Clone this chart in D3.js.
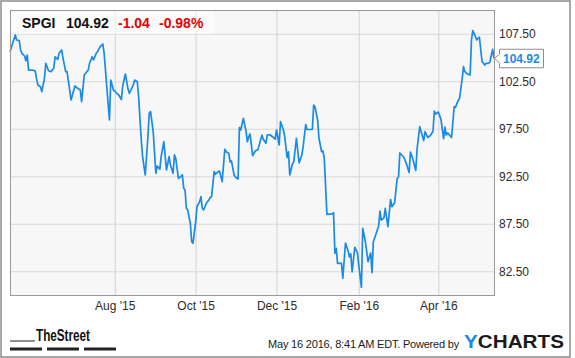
<!DOCTYPE html>
<html>
<head>
<meta charset="utf-8">
<script src="https://cdn.jsdelivr.net/npm/d3@7"></script>
<style>
  body { margin: 0; background: #fff; }
  svg { display: block; font-family: "Liberation Sans", Arial, sans-serif; }
</style>
</head>
<body>
<div id="chart"></div>
<script>
var ticker = "SPGI",
    lastPrice = "104.92",
    change = "-1.04",
    changePct = "-0.98%",
    stamp = "May 16 2016, 8:41 AM EDT. Powered by";

var dates = [
  "2015-05-14","2015-05-18","2015-05-19","2015-05-21","2015-05-22","2015-05-23","2015-05-25","2015-05-26","2015-05-27","2015-05-28",
  "2015-05-31","2015-06-02","2015-06-03","2015-06-04","2015-06-06","2015-06-07","2015-06-09","2015-06-10","2015-06-12","2015-06-14",
  "2015-06-16","2015-06-17","2015-06-19","2015-06-20","2015-06-22","2015-06-23","2015-06-25","2015-06-26","2015-06-28","2015-06-29",
  "2015-07-02","2015-07-04","2015-07-06","2015-07-07","2015-07-09","2015-07-12","2015-07-13","2015-07-15","2015-07-16","2015-07-18",
  "2015-07-19","2015-07-21","2015-07-23","2015-07-24","2015-07-26","2015-07-28","2015-07-29","2015-07-31","2015-08-01","2015-08-03",
  "2015-08-04","2015-08-06","2015-08-07","2015-08-09","2015-08-11","2015-08-12","2015-08-15","2015-08-16","2015-08-18","2015-08-19",
  "2015-08-21","2015-08-22","2015-08-24","2015-08-26","2015-08-27","2015-08-28","2015-08-30","2015-09-01","2015-09-02","2015-09-04",
  "2015-09-05","2015-09-07","2015-09-09","2015-09-11","2015-09-12","2015-09-14","2015-09-15","2015-09-16","2015-09-18","2015-09-19",
  "2015-09-21","2015-09-22","2015-09-23","2015-09-24","2015-09-25","2015-09-27","2015-09-28","2015-09-29","2015-10-01","2015-10-02",
  "2015-10-04","2015-10-05","2015-10-06","2015-10-07","2015-10-09","2015-10-11","2015-10-12","2015-10-13","2015-10-15","2015-10-16",
  "2015-10-18","2015-10-19","2015-10-21","2015-10-23","2015-10-24","2015-10-26","2015-10-27","2015-10-28","2015-10-30","2015-10-31",
  "2015-11-02","2015-11-03","2015-11-04","2015-11-06","2015-11-08","2015-11-09","2015-11-10","2015-11-11","2015-11-13","2015-11-15",
  "2015-11-17","2015-11-20","2015-11-21","2015-11-23","2015-11-24","2015-11-26","2015-11-28","2015-11-30","2015-12-01","2015-12-03",
  "2015-12-04","2015-12-06","2015-12-07","2015-12-09","2015-12-10","2015-12-11","2015-12-13","2015-12-14","2015-12-16","2015-12-18",
  "2015-12-20","2015-12-21","2015-12-23","2015-12-24","2015-12-28","2015-12-29","2015-12-30","2016-01-01","2016-01-02","2016-01-04",
  "2016-01-05","2016-01-06","2016-01-08","2016-01-12","2016-01-13","2016-01-14","2016-01-15","2016-01-16","2016-01-19","2016-01-20",
  "2016-01-22","2016-01-24","2016-01-25","2016-01-26","2016-01-27","2016-01-29","2016-01-31","2016-02-01","2016-02-03","2016-02-04",
  "2016-02-06","2016-02-08","2016-02-10","2016-02-11","2016-02-12","2016-02-14","2016-02-16","2016-02-17","2016-02-18","2016-02-20",
  "2016-02-21","2016-02-23","2016-02-25","2016-02-26","2016-02-28","2016-03-01","2016-03-02","2016-03-03","2016-03-06","2016-03-08",
  "2016-03-10","2016-03-11","2016-03-13","2016-03-15","2016-03-16","2016-03-18","2016-03-19","2016-03-21","2016-03-22","2016-03-24",
  "2016-03-26","2016-03-28","2016-03-29","2016-03-30","2016-04-01","2016-04-03","2016-04-05","2016-04-06","2016-04-07","2016-04-08",
  "2016-04-11","2016-04-13","2016-04-14","2016-04-15","2016-04-17","2016-04-19","2016-04-20","2016-04-21","2016-04-23","2016-04-25",
  "2016-04-26","2016-04-27","2016-04-29","2016-04-30","2016-05-01","2016-05-02","2016-05-04","2016-05-05","2016-05-06","2016-05-07",
  "2016-05-09","2016-05-10","2016-05-11","2016-05-12","2016-05-13"
];

var closes = [
  105.61,107.37,106.84,106.77,105.79,105.44,105.16,104.66,105.26,103.68,
  103.68,103.58,102.81,102.11,101.93,101.40,102.81,104.39,103.61,103.51,
  103.86,105.08,104.81,105.44,105.79,104.92,103.51,103.51,101.58,100.53,
  102.00,101.76,101.58,100.35,103.16,103.68,104.39,105.08,104.74,105.44,
  105.61,106.14,106.42,105.44,101.93,98.42,102.63,101.58,101.47,101.16,
  101.05,100.58,102.00,103.26,101.68,101.23,102.11,102.63,102.45,100.87,
  96.32,94.56,92.63,96.66,99.13,99.30,97.19,92.81,93.58,93.23,
  94.56,96.14,93.16,94.56,93.68,92.81,94.74,94.39,92.28,92.39,
  92.63,91.23,91.05,89.13,88.95,87.55,85.61,85.44,87.68,89.30,
  89.82,90.35,89.13,88.95,89.65,90.00,90.28,90.35,92.98,92.71,
  92.98,93.05,91.93,95.34,95.08,94.92,94.00,94.11,92.63,92.42,
  92.21,97.63,97.37,98.60,97.26,96.14,96.63,96.95,94.68,95.16,
  95.32,96.84,96.39,95.97,96.84,96.87,96.66,96.42,97.37,95.79,
  98.24,97.47,96.84,94.47,95.08,92.63,93.79,94.03,96.50,93.90,
  94.68,95.53,97.95,97.42,97.42,100.00,99.79,98.42,96.50,95.08,
  95.16,94.39,88.49,88.53,88.66,84.39,84.92,83.33,83.33,81.76,
  85.47,84.63,84.00,84.32,82.42,85.02,84.47,83.16,80.79,87.02,
  85.63,83.51,84.42,82.35,85.58,86.42,87.26,88.84,87.89,88.11,
  89.11,87.19,90.05,89.30,89.68,92.28,92.42,94.95,94.50,93.79,
  92.89,95.05,94.21,93.11,95.37,97.72,97.21,96.26,97.19,96.58,
  96.79,97.23,99.37,99.05,99.26,98.49,96.47,97.68,96.84,97.07,
  96.58,99.84,99.76,100.16,100.71,102.74,104.03,103.51,103.26,103.16,
  106.84,107.82,107.19,106.84,107.02,107.13,104.56,104.39,104.21,104.39,
  104.39,104.56,105.26,105.86,104.92
];

var yTicks = [82.5, 87.5, 92.5, 97.5, 102.5, 107.5];
var monthTicks = ["2015-08-01", "2015-10-01", "2015-12-01", "2016-02-01", "2016-04-01"];
var monthLabels = ["Aug '15", "Oct '15", "Dec '15", "Feb '16", "Apr '16"];

var W = 575, H = 358,
    plot = {left: 10, top: 10, right: 494, bottom: 295};

var parse = d3.timeParse("%Y-%m-%d");
var data = dates.map(function(d, i) { return {date: parse(d), close: closes[i]}; });

var svg = d3.select("#chart").append("svg")
    .attr("width", W)
    .attr("height", H);

// outer frame
svg.append("rect")
    .attr("x", 1).attr("y", 1)
    .attr("width", 569).attr("height", 356)
    .attr("fill", "#fff")
    .attr("stroke", "#8c8c8c")
    .attr("stroke-width", 1.5);

svg.append("rect")
    .attr("x", plot.left).attr("y", plot.top)
    .attr("width", plot.right - plot.left).attr("height", plot.bottom - plot.top)
    .attr("fill", "#f7f7f7");

var x = d3.scaleTime()
    .domain([parse("2015-05-14"), parse("2016-05-13")])
    .range([plot.left, plot.right]);

var y = d3.scaleLinear()
    .domain([80, 110])
    .range([plot.bottom, plot.top]);

var xAxis = svg.append("g")
    .attr("transform", "translate(0," + plot.bottom + ")")
    .call(d3.axisBottom(x)
      .tickValues(monthTicks.map(parse))
      .tickFormat(function(d, i) { return monthLabels[i]; })
      .tickSize(-(plot.bottom - plot.top))
      .tickPadding(6));

var yAxis = svg.append("g")
    .attr("transform", "translate(" + plot.right + ",0)")
    .call(d3.axisRight(y)
      .tickValues(yTicks)
      .tickFormat(d3.format(".2f"))
      .tickSize(-(plot.right - plot.left))
      .tickPadding(5));

[xAxis, yAxis].forEach(function(a) {
  a.select(".domain").remove();
  a.selectAll(".tick line").attr("stroke", "#d8d8d8").attr("stroke-width", 1.2);
  a.selectAll(".tick text")
    .attr("fill", "#2b2b2b")
    .style("font-size", "12px")
    .style("font-family", "'Liberation Sans', Arial, sans-serif");
});

var line = d3.line()
    .x(function(d) { return x(d.date); })
    .y(function(d) { return y(d.close); });

svg.append("path")
    .datum(data)
    .attr("fill", "none")
    .attr("stroke", "#1a8ae8")
    .attr("stroke-width", 1.7)
    .attr("stroke-linejoin", "round")
    .attr("d", line);

svg.append("rect")
    .attr("x", plot.left + 0.5).attr("y", plot.top + 0.5)
    .attr("width", plot.right - plot.left).attr("height", plot.bottom - plot.top)
    .attr("fill", "none")
    .attr("stroke", "#999")
    .attr("stroke-width", 1);

// header box
svg.append("rect")
    .attr("x", plot.left + 1).attr("y", plot.top + 1)
    .attr("width", 203).attr("height", 23)
    .attr("fill", "#fff")
    .attr("fill-opacity", 0.55);

var head = svg.append("text")
    .attr("y", 28)
    .style("font-size", "14px")
    .style("font-weight", "bold");
head.append("tspan").attr("x", 22).attr("fill", "#111").text(ticker);
head.append("tspan").attr("x", 66).attr("fill", "#111").text(lastPrice);
head.append("tspan").attr("x", 118).attr("fill", "#e60000").text(change);
head.append("tspan").attr("x", 159).attr("fill", "#e60000").text(changePct);

// last price tag
var last = data[data.length - 1],
    ly = y(last.close);
svg.append("path")
    .attr("d", "M" + (plot.right + 5.5) + "," + (ly - 9) +
               "H543.5V" + (ly + 9.5) +
               "H" + (plot.right + 5.5) + "V" + (ly + 5) +
               "L" + (plot.right + 0.5) + "," + ly +
               "L" + (plot.right + 5.5) + "," + (ly - 4) + "Z")
    .attr("fill", "#fff")
    .attr("stroke", "#8c8c8c")
    .attr("stroke-width", 1);
svg.append("text")
    .attr("x", plot.right + 9)
    .attr("y", ly)
    .attr("dy", "0.36em")
    .attr("fill", "#1a8ae8")
    .style("font-size", "12px")
    .style("font-weight", "bold")
    .text(d3.format(".2f")(last.close));

// footer
var logo = svg.append("g");
logo.append("line")
    .attr("x1", 10).attr("x2", 35)
    .attr("y1", 341).attr("y2", 341)
    .attr("stroke", "#222").attr("stroke-width", 1);
logo.append("text")
    .attr("x", 36).attr("y", 341)
    .attr("textLength", 54)
    .attr("lengthAdjust", "spacingAndGlyphs")
    .attr("fill", "#111")
    .style("font-size", "16px")
    .style("font-weight", "bold")
    .text("TheStreet");
[10, 47, 84].forEach(function(bx) {
  logo.append("rect")
      .attr("x", bx).attr("y", 347.5)
      .attr("width", 32).attr("height", 3)
      .attr("fill", "#222");
});

svg.append("text")
    .attr("x", 459).attr("y", 348)
    .attr("text-anchor", "end")
    .attr("fill", "#1a1a1a")
    .style("font-size", "11px")
    .style("letter-spacing", "-0.2px")
    .text(stamp);

var yc = svg.append("text")
    .attr("x", 464).attr("y", 348)
    .attr("textLength", 100)
    .attr("lengthAdjust", "spacingAndGlyphs")
    .style("font-size", "18px")
    .style("font-weight", "bold");
yc.append("tspan").attr("fill", "#1a8ae8").text("Y");
yc.append("tspan").attr("fill", "#1a1a1a").text("CHARTS");
</script>
</body>
</html>
